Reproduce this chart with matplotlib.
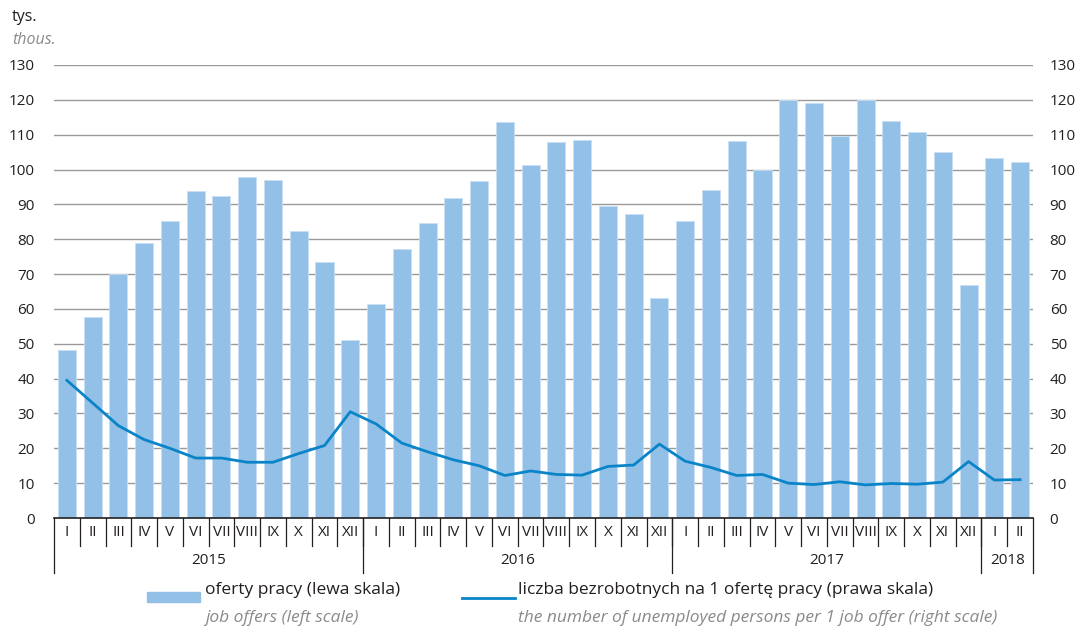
import matplotlib
matplotlib.use("Agg")
import matplotlib.pyplot as plt
import matplotlib.transforms as mtransforms
from matplotlib.patches import Rectangle
from matplotlib.lines import Line2D

plt.rcParams['font.family'] = ['Open Sans', 'DejaVu Sans']

months = ["I", "II", "III", "IV", "V", "VI", "VII", "VIII", "IX", "X", "XI", "XII"] * 3 + ["I", "II"]
years = ["2015", "2016", "2017", "2018"]
year_counts = [12, 12, 12, 2]

job_offers = [48.2, 57.7, 70.0, 79.0, 85.3, 93.8, 92.3, 97.8, 97.0, 82.5, 73.5, 51.2,
              61.3, 77.3, 84.6, 91.9, 96.7, 113.5, 101.3, 108.0, 108.5, 89.5, 87.3, 63.0,
              85.2, 94.2, 108.3, 100.0, 120.0, 119.2, 109.5, 120.0, 113.8, 110.8, 105.0, 66.8,
              103.3, 102.3]
unemployed_per_offer = [39.5, 33.0, 26.5, 22.5, 20.0, 17.2, 17.2, 16.0, 16.0, 18.5, 20.8, 30.5,
                        27.0, 21.5, 19.0, 16.7, 15.0, 12.2, 13.5, 12.5, 12.3, 14.8, 15.2, 21.2,
                        16.3, 14.5, 12.2, 12.5, 10.0, 9.6, 10.4, 9.5, 9.9, 9.7, 10.3, 16.2,
                        10.9, 11.0]
yticks = list(range(0, 131, 10))

bar_color = "#93c0e6"
line_color = "#0a84c8"
grid_color = "#9a9a9a"
text_color = "#231f20"
gray_text = "#8a8a8a"

fig = plt.figure(figsize=(10.78, 6.30), dpi=100)
ax = fig.add_axes([54 / 1078, 112 / 630, 979 / 1078, 453 / 630])
ax2 = ax.twinx()

x = list(range(len(job_offers)))
ax.bar(x, job_offers, width=0.7, color=bar_color, edgecolor="#c9e0f4", linewidth=0.6, zorder=2)
ax2.plot(x, unemployed_per_offer, color=line_color, linewidth=2.0, zorder=3)

for a in (ax, ax2):
    a.set_ylim(0, 130)
    a.set_xlim(-0.5, len(x) - 0.5)
    for s in ("top", "left", "right", "bottom"):
        a.spines[s].set_visible(False)

ax.set_yticks(yticks)
ax2.set_yticks(yticks)
ax.tick_params(axis="y", length=0, pad=14, labelsize=11, labelcolor=text_color)
ax2.tick_params(axis="y", length=0, pad=12, labelsize=11, labelcolor=text_color)
for yv in yticks[1:]:
    ax.axhline(yv, color=grid_color, linewidth=1.0, zorder=1)
ax.axhline(0, color=text_color, linewidth=1.2, zorder=4, clip_on=False)

ax.set_xticks(x)
ax.set_xticklabels(months, fontsize=11, color=text_color)
ax.tick_params(axis="x", length=0, pad=5)

trans = mtransforms.blended_transform_factory(ax.transData, ax.transAxes)
px = 1.0 / 453.0
# month separators
for k in range(1, len(x)):
    ax.plot([k - 0.5, k - 0.5], [0, -28 * px], transform=trans, color=text_color,
            linewidth=0.9, clip_on=False, zorder=5)
# year separators and labels
start = 0
bounds = [-0.5]
for cnt in year_counts:
    start += cnt
    bounds.append(start - 0.5)
for b in bounds:
    ax.plot([b, b], [0, -55 * px], transform=trans, color=text_color,
            linewidth=0.9, clip_on=False, zorder=5)
for i, yl in enumerate(years):
    cx = (bounds[i] + bounds[i + 1]) / 2
    ax.text(cx, -42 * px, yl, transform=trans, ha="center", va="center",
            fontsize=11, color=text_color)

# unit labels
fig.text(12 / 1078, 1 - 17 / 630, "tys.", fontsize=11.5, color=text_color, va="center", ha="left")
fig.text(12 / 1078, 1 - 40 / 630, "thous.", fontsize=11.5, color=gray_text, style="italic",
         va="center", ha="left")

# legend
fig.patches.append(Rectangle((147 / 1078, 1 - 602 / 630), 53 / 1078, 10 / 630,
                             transform=fig.transFigure, color=bar_color))
fig.text(205 / 1078, 1 - 590 / 630, "oferty pracy (lewa skala)", fontsize=12.5,
         color=text_color, va="center", ha="left")
fig.text(205 / 1078, 1 - 618 / 630, "job offers (left scale)", fontsize=12.5,
         color=gray_text, style="italic", va="center", ha="left")
fig.lines.append(Line2D([462 / 1078, 515 / 1078], [1 - 598 / 630, 1 - 598 / 630],
                        transform=fig.transFigure, color=line_color, linewidth=2.0))
fig.text(518 / 1078, 1 - 590 / 630, "liczba bezrobotnych na 1 ofertę pracy (prawa skala)",
         fontsize=12.5, color=text_color, va="center", ha="left")
fig.text(518 / 1078, 1 - 618 / 630, "the number of unemployed persons per 1 job offer (right scale)",
         fontsize=12.5, color=gray_text, style="italic", va="center", ha="left")

fig.savefig("out.png", dpi=100)
